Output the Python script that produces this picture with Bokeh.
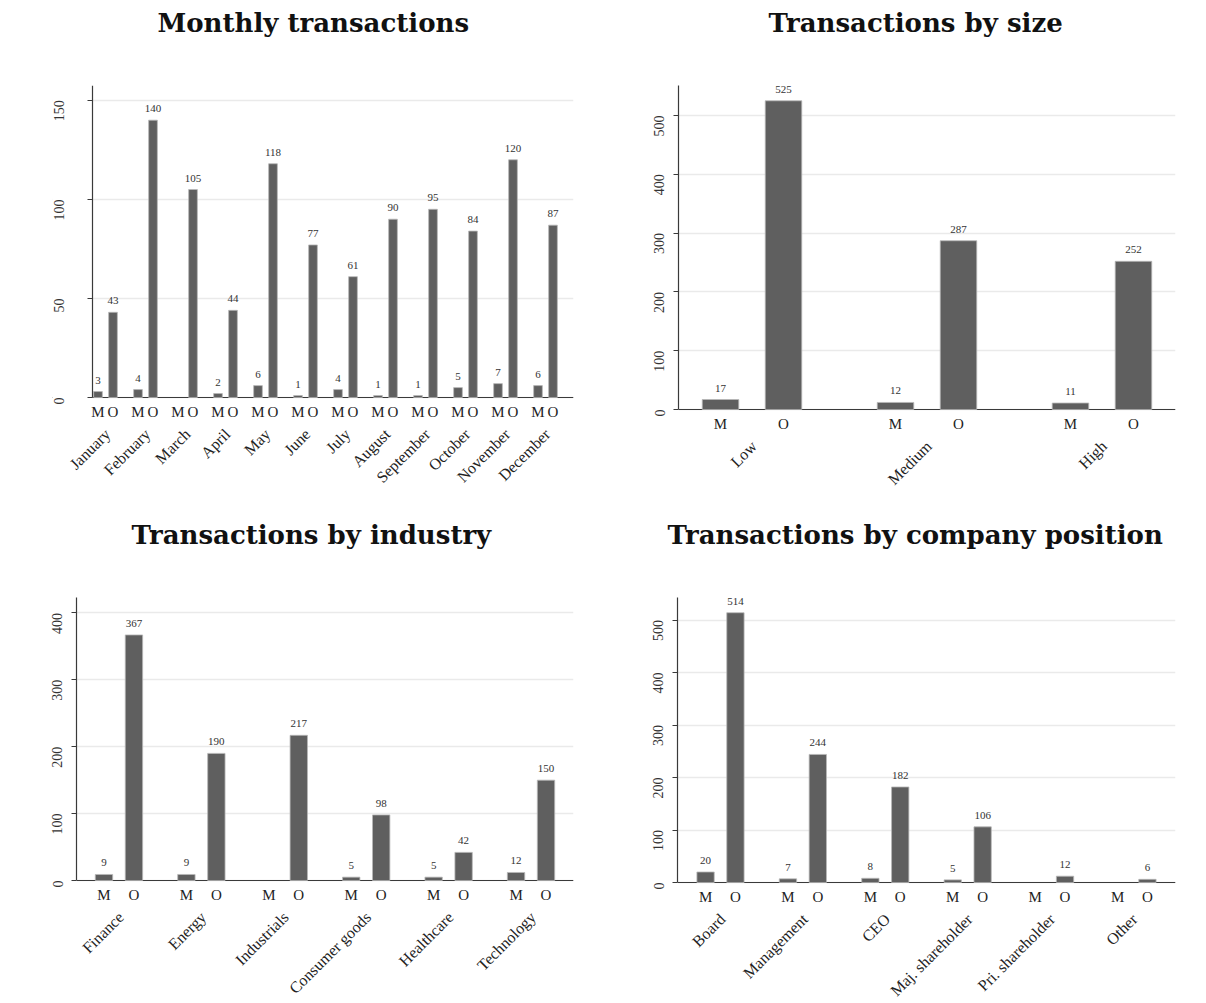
import math

from bokeh.embed import file_html
from bokeh.layouts import column, row
from bokeh.models import (BoxAnnotation, ColumnDataSource, FactorRange,
                          FixedTicker, Label, LabelSet, Range1d, Span, Title)
from bokeh.plotting import figure
from bokeh.resources import INLINE

# ---- data -------------------------------------------------------------
subgroups = ["M", "O"]

months = ["January", "February", "March", "April", "May", "June", "July",
          "August", "September", "October", "November", "December"]
month_m = [3, 4, 0, 2, 6, 1, 4, 1, 1, 5, 7, 6]
month_o = [43, 140, 105, 44, 118, 77, 61, 90, 95, 84, 120, 87]

sizes = ["Low", "Medium", "High"]
size_m = [17, 12, 11]
size_o = [525, 287, 252]

industries = ["Finance", "Energy", "Industrials", "Consumer goods",
              "Healthcare", "Technology"]
industry_m = [9, 9, 0, 5, 5, 12]
industry_o = [367, 190, 217, 98, 42, 150]

positions = ["Board", "Management", "CEO", "Maj. shareholder",
             "Pri. shareholder", "Other"]
position_m = [20, 7, 8, 5, 0, 0]
position_o = [514, 244, 182, 106, 12, 6]

SERIF = "Liberation Serif"
TITLE_FONT = "DejaVu Serif"
BAR = "#5f5f5f"
AXIS = "#3a3a3a"


def make_panel(title, title_offset, cats, m_vals, o_vals, y_end, ticks,
               height, left, right, top, zero_px, group_pad, side_pad,
               lead=False):
    """One grouped bar panel.

    The frame runs down to the bottom edge of the canvas so the M/O row and
    the slanted category names are laid out as labels below the zero line
    (zero_px is the pixel row of y=0).  side_pad is the empty margin, in
    factor widths, at both ends of the bars.  With lead=True an empty group
    is put in front of the first one, so the first slanted name has room to
    run left of the y axis, which is then pinned where the plot area starts.
    """
    above_px = zero_px - top
    below_px = height - zero_px
    y_start = -y_end * below_px / above_px

    factors = [(c, s) for c in cats for s in subgroups]
    all_factors = ([("", "")] if lead else []) + factors
    n_groups = len(cats) + (1 if lead else 0)
    span_units = len(all_factors) + (n_groups - 1) * group_pad
    xr = FactorRange(*all_factors, factor_padding=0.0,
                     group_padding=group_pad,
                     range_padding=2 * side_pad / span_units,
                     range_padding_units="percent")
    p = figure(x_range=xr, y_range=Range1d(y_start, y_end), width=603,
               height=height, output_backend="svg", toolbar_location=None,
               min_border_left=left, min_border_right=right,
               min_border_top=top, min_border_bottom=0)

    # bars (empty categories are left out)
    xs, tops = [], []
    for c, m, o in zip(cats, m_vals, o_vals):
        for s, v in (("M", m), ("O", o)):
            if v:
                xs.append((c, s))
                tops.append(v)
    src = ColumnDataSource(dict(x=xs, top=tops, label=[str(v) for v in tops]))
    p.vbar(x="x", top="top", width=0.58, source=src, fill_color=BAR,
           line_color="#b8b8b8", line_width=0.8)
    p.add_layout(LabelSet(x="x", y="top", text="label", source=src,
                          text_align="center", text_baseline="bottom",
                          y_offset=8, text_font=SERIF,
                          text_font_size="11px", text_color="#333333"))

    # baseline; with a leading empty group the grid and baseline are masked
    # left of the pinned y axis
    p.add_layout(Span(location=0, dimension="width", line_color=AXIS,
                      line_width=1.2, level="underlay"))
    first = 1 if lead else 0
    axis_loc = None
    if lead:
        axis_loc = 2 * first + first * group_pad - side_pad
        p.add_layout(BoxAnnotation(right=axis_loc, fill_color="white",
                                   fill_alpha=1.0, line_color=None,
                                   level="underlay"))

    p.xaxis.visible = False
    sub_src = ColumnDataSource(dict(x=factors, y=[0] * len(factors),
                                    text=[s for _, s in factors]))
    p.add_layout(LabelSet(x="x", y="y", text="text", source=sub_src,
                          text_align="center", text_baseline="alphabetic",
                          y_offset=-19, text_font=SERIF,
                          text_font_size="15px", text_color="#222222"))
    # category names at the middle of each group, in the range's synthetic
    # coordinates (two unit-wide factors per group plus the group padding)
    for i, c in enumerate(cats):
        g = i + first
        mid = 2 * g + 1.0 - (1.0 if lead else 0.0) + g * group_pad
        p.add_layout(Label(x=mid, y=0, text=c, angle=math.pi / 4,
                           text_align="right", text_baseline="middle",
                           x_offset=2, y_offset=-34, text_font=SERIF,
                           text_font_size="16px", text_color="#222222"))

    # title sits above a blank spacer line
    p.add_layout(Title(text=" ", text_font_size="2px", standoff=42), "above")
    p.title.text = title
    p.title.align = "left"
    p.title.offset = title_offset
    p.title.vertical_align = "top"
    p.title.standoff = 0
    p.title.text_font = TITLE_FONT
    p.title.text_font_style = "bold"
    p.title.text_font_size = "26px"
    p.title.text_color = "#111111"

    p.outline_line_color = None
    p.background_fill_color = "white"
    p.border_fill_color = "white"

    yticker = FixedTicker(ticks=ticks)
    p.xgrid.grid_line_color = None
    p.ygrid.ticker = yticker
    p.ygrid.grid_line_color = "#eaeaea"
    p.ygrid.grid_line_width = 1.5

    ya = p.yaxis[0]
    ya.ticker = yticker
    ya.bounds = (0, y_end)
    ya.major_label_standoff = 14
    if axis_loc is not None:
        # a pinned axis anchors its turned labels closer to the line
        ya.fixed_location = axis_loc
        ya.major_label_standoff = 28
    ya.axis_line_color = AXIS
    ya.axis_line_width = 1.2
    ya.major_tick_line_color = AXIS
    ya.major_tick_in = 0
    ya.major_tick_out = 5
    ya.minor_tick_line_color = None
    ya.major_label_orientation = math.pi / 2
    ya.major_label_text_font = SERIF
    ya.major_label_text_font_size = "14px"
    ya.major_label_text_color = "#333333"
    return p


p1 = make_panel("Monthly transactions", 105, months, month_m, month_o,
                157.5, [0, 50, 100, 150], 500, 52, 30, 85, 397,
                0.667, 0.867, lead=True)
p2 = make_panel("Transactions by size", 90, sizes, size_m, size_o,
                551, [0, 100, 200, 300, 400, 500], 500, 75, 31, 85, 409,
                0.778, 0.167)
p3 = make_panel("Transactions by industry", 55, industries, industry_m,
                industry_o, 423, [0, 100, 200, 300, 400], 503,
                76, 30, 97, 380, 0.75, 0.417)
p4 = make_panel("Transactions by company position", -10, positions,
                position_m, position_o, 543, [0, 100, 200, 300, 400, 500],
                503, 74, 31, 97, 382, 0.76, 0.44)

layout = column(row(p1, p2), row(p3, p4))
open("out.html", "w").write(file_html(layout, INLINE))
